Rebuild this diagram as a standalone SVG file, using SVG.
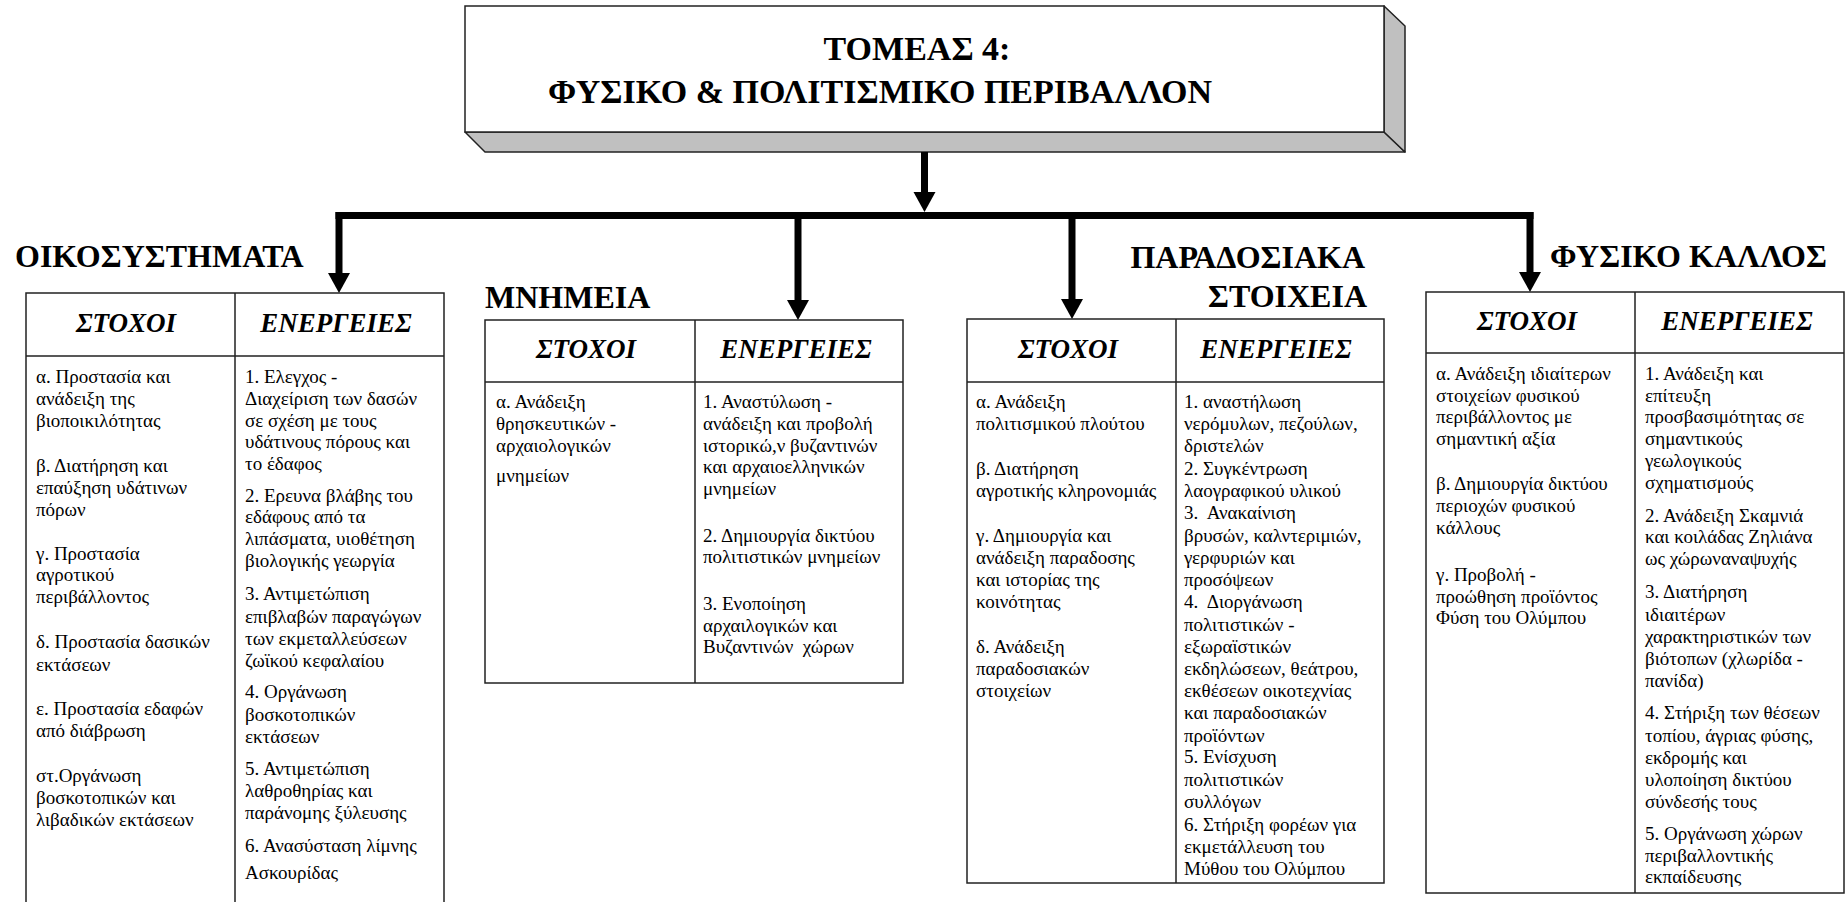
<svg xmlns="http://www.w3.org/2000/svg" width="1845" height="902" viewBox="0 0 1845 902">
<style>
.b{font-family:"Liberation Serif","DejaVu Serif",serif;font-size:19px;fill:#000}
.h{font-family:"Liberation Serif","DejaVu Serif",serif;font-size:27px;font-weight:bold;font-style:italic;text-anchor:middle;fill:#000}
.sec{font-family:"Liberation Serif","DejaVu Serif",serif;font-size:32px;font-weight:bold;fill:#000}
.ttl{font-family:"Liberation Serif","DejaVu Serif",serif;font-size:34px;font-weight:bold;text-anchor:middle;fill:#000}
.tb{fill:#fff;stroke:#222;stroke-width:1.5}
.ln{stroke:#222;stroke-width:1.5;fill:none}
.side{fill:#c0c0c0;stroke:#222;stroke-width:1.5;stroke-linejoin:round}
.cn{stroke:#000;stroke-width:7;fill:none}
</style>
<defs>
<marker id="ah" markerUnits="userSpaceOnUse" markerWidth="22" markerHeight="24" viewBox="0 -12 21 24" refX="0" refY="0" orient="auto">
<path d="M0,-11 L20,0 L0,11 Z" fill="#000"/>
</marker>
</defs>
<rect width="1845" height="902" fill="#fff"/>

<g id="title">
<path class="side" d="M465,132 L485,152 L1405,152 L1384,132 Z"/>
<path class="side" d="M1384,6 L1405,26 L1405,152 L1384,132 Z"/>
<rect class="tb" x="465" y="6" width="919" height="126"/>
<text class="ttl" x="917" y="60">ΤΟΜΕΑΣ 4:</text>
<text class="ttl" x="880" y="103">ΦΥΣΙΚΟ &amp; ΠΟΛΙΤΙΣΜΙΚΟ ΠΕΡΙΒΑΛΛΟΝ</text>
</g>

<g id="connectors">
<line class="cn" x1="924.5" y1="152" x2="924.5" y2="192" marker-end="url(#ah)"/>
<line class="cn" x1="335.5" y1="215.5" x2="1533.5" y2="215.5"/>
<line class="cn" x1="339" y1="212" x2="339" y2="273" marker-end="url(#ah)"/>
<line class="cn" x1="798" y1="212" x2="798" y2="300" marker-end="url(#ah)"/>
<line class="cn" x1="1072" y1="212" x2="1072" y2="299" marker-end="url(#ah)"/>
<line class="cn" x1="1530" y1="212" x2="1530" y2="272" marker-end="url(#ah)"/>
</g>

<g id="oikosystimata">
<text class="sec" x="15" y="267">ΟΙΚΟΣΥΣΤΗΜΑΤΑ</text>
<path class="ln" d="M26,905 L26,293 L444,293 L444,905 M26,356 L444,356 M235,293 L235,905"/>
<text class="h" x="126" y="332">ΣΤΟΧΟΙ</text>
<text class="h" x="336" y="332">ΕΝΕΡΓΕΙΕΣ</text>
<text class="b" x="36" y="383">α. Προστασία και</text>
<text class="b" x="36" y="405">ανάδειξη της</text>
<text class="b" x="36" y="427">βιοποικιλότητας</text>
<text class="b" x="36" y="472">β. Διατήρηση και</text>
<text class="b" x="36" y="494">επαύξηση υδάτινων</text>
<text class="b" x="36" y="516">πόρων</text>
<text class="b" x="36" y="560">γ. Προστασία</text>
<text class="b" x="36" y="581">αγροτικού</text>
<text class="b" x="36" y="603">περιβάλλοντος</text>
<text class="b" x="36" y="648">δ. Προστασία δασικών</text>
<text class="b" x="36" y="671">εκτάσεων</text>
<text class="b" x="36" y="715">ε. Προστασία εδαφών</text>
<text class="b" x="36" y="737">από διάβρωση</text>
<text class="b" x="36" y="782">στ.Οργάνωση</text>
<text class="b" x="36" y="804">βοσκοτοπικών και</text>
<text class="b" x="36" y="826">λιβαδικών εκτάσεων</text>
<text class="b" x="245" y="383">1. Ελεγχος -</text>
<text class="b" x="245" y="405">Διαχείριση των δασών</text>
<text class="b" x="245" y="427">σε σχέση με τους</text>
<text class="b" x="245" y="448">υδάτινους πόρους και</text>
<text class="b" x="245" y="470">το έδαφος</text>
<text class="b" x="245" y="502">2. Ερευνα βλάβης του</text>
<text class="b" x="245" y="523">εδάφους από τα</text>
<text class="b" x="245" y="545">λιπάσματα, υιοθέτηση</text>
<text class="b" x="245" y="567">βιολογικής γεωργία</text>
<text class="b" x="245" y="600">3. Αντιμετώπιση</text>
<text class="b" x="245" y="623">επιβλαβών παραγώγων</text>
<text class="b" x="245" y="645">των εκμεταλλεύσεων</text>
<text class="b" x="245" y="667">ζωϊκού κεφαλαίου</text>
<text class="b" x="245" y="698">4. Οργάνωση</text>
<text class="b" x="245" y="721">βοσκοτοπικών</text>
<text class="b" x="245" y="743">εκτάσεων</text>
<text class="b" x="245" y="775">5. Αντιμετώπιση</text>
<text class="b" x="245" y="797">λαθροθηρίας και</text>
<text class="b" x="245" y="819">παράνομης ξύλευσης</text>
<text class="b" x="245" y="852">6. Ανασύσταση λίμνης</text>
<text class="b" x="245" y="879">Ασκουρίδας</text>
</g>

<g id="mnimeia">
<text class="sec" x="485" y="308">ΜΝΗΜΕΙΑ</text>
<rect class="tb" x="485" y="320" width="418" height="363"/>
<path class="ln" d="M485,382 L903,382 M695,320 L695,683"/>
<text class="h" x="586" y="358">ΣΤΟΧΟΙ</text>
<text class="h" x="796" y="358">ΕΝΕΡΓΕΙΕΣ</text>
<text class="b" x="496" y="408">α. Ανάδειξη</text>
<text class="b" x="496" y="430">θρησκευτικών -</text>
<text class="b" x="496" y="452">αρχαιολογικών</text>
<text class="b" x="496" y="482">μνημείων</text>
<text class="b" x="703" y="408">1. Αναστύλωση -</text>
<text class="b" x="703" y="430">ανάδειξη και προβολή</text>
<text class="b" x="703" y="452">ιστορικώ,ν βυζαντινών</text>
<text class="b" x="703" y="473">και αρχαιοελληνικών</text>
<text class="b" x="703" y="495">μνημείων</text>
<text class="b" x="703" y="542">2. Δημιουργία δικτύου</text>
<text class="b" x="703" y="563">πολιτιστικών μνημείων</text>
<text class="b" x="703" y="610">3. Ενοποίηση</text>
<text class="b" x="703" y="632">αρχαιλογικών και</text>
<text class="b" x="703" y="653" xml:space="preserve">Βυζαντινών  χώρων</text>
</g>

<g id="paradosiaka">
<text class="sec" x="1365" y="268" text-anchor="end">ΠΑΡΑΔΟΣΙΑΚΑ</text>
<text class="sec" x="1367" y="307" text-anchor="end">ΣΤΟΙΧΕΙΑ</text>
<rect class="tb" x="967" y="319" width="417" height="564"/>
<path class="ln" d="M967,382 L1384,382 M1176,319 L1176,883"/>
<text class="h" x="1068" y="358">ΣΤΟΧΟΙ</text>
<text class="h" x="1276" y="358">ΕΝΕΡΓΕΙΕΣ</text>
<text class="b" x="976" y="408">α. Ανάδειξη</text>
<text class="b" x="976" y="430">πολιτισμικού πλούτου</text>
<text class="b" x="976" y="475">β. Διατήρηση</text>
<text class="b" x="976" y="497">αγροτικής κληρονομιάς</text>
<text class="b" x="976" y="542">γ. Δημιουργία και</text>
<text class="b" x="976" y="564">ανάδειξη παραδοσης</text>
<text class="b" x="976" y="586">και ιστορίας της</text>
<text class="b" x="976" y="608">κοινότητας</text>
<text class="b" x="976" y="653">δ. Ανάδειξη</text>
<text class="b" x="976" y="675">παραδοσιακών</text>
<text class="b" x="976" y="697">στοιχείων</text>
<text class="b" x="1184" y="408">1. αναστήλωση</text>
<text class="b" x="1184" y="430">νερόμυλων, πεζούλων,</text>
<text class="b" x="1184" y="452">δριστελών</text>
<text class="b" x="1184" y="475">2. Συγκέντρωση</text>
<text class="b" x="1184" y="497">λαογραφικού υλικού</text>
<text class="b" x="1184" y="519" xml:space="preserve">3.  Ανακαίνιση</text>
<text class="b" x="1184" y="542">βρυσών, καλντεριμιών,</text>
<text class="b" x="1184" y="564">γερφυριών και</text>
<text class="b" x="1184" y="586">προσόψεων</text>
<text class="b" x="1184" y="608" xml:space="preserve">4.  Διοργάνωση</text>
<text class="b" x="1184" y="631">πολιτιστικών -</text>
<text class="b" x="1184" y="653">εξωραϊστικών</text>
<text class="b" x="1184" y="675">εκδηλώσεων, θεάτρου,</text>
<text class="b" x="1184" y="697">εκθέσεων οικοτεχνίας</text>
<text class="b" x="1184" y="719">και παραδοσιακών</text>
<text class="b" x="1184" y="742">προϊόντων</text>
<text class="b" x="1184" y="763">5. Ενίσχυση</text>
<text class="b" x="1184" y="786">πολιτιστικών</text>
<text class="b" x="1184" y="808">συλλόγων</text>
<text class="b" x="1184" y="831">6. Στήριξη φορέων για</text>
<text class="b" x="1184" y="853">εκμετάλλευση του</text>
<text class="b" x="1184" y="875">Μύθου του Ολύμπου</text>
</g>

<g id="fysiko-kallos">
<text class="sec" x="1550" y="267">ΦΥΣΙΚΟ ΚΑΛΛΟΣ</text>
<rect class="tb" x="1426" y="292" width="418" height="601"/>
<path class="ln" d="M1426,353 L1844,353 M1635,292 L1635,893"/>
<text class="h" x="1527" y="330">ΣΤΟΧΟΙ</text>
<text class="h" x="1737" y="330">ΕΝΕΡΓΕΙΕΣ</text>
<text class="b" x="1436" y="380">α. Ανάδειξη ιδιαίτερων</text>
<text class="b" x="1436" y="402">στοιχείων φυσικού</text>
<text class="b" x="1436" y="423">περιβάλλοντος με</text>
<text class="b" x="1436" y="445">σημαντική αξία</text>
<text class="b" x="1436" y="490">β. Δημιουργία δικτύου</text>
<text class="b" x="1436" y="512">περιοχών φυσικού</text>
<text class="b" x="1436" y="534">κάλλους</text>
<text class="b" x="1436" y="581">γ. Προβολή -</text>
<text class="b" x="1436" y="603">προώθηση προϊόντος</text>
<text class="b" x="1436" y="624">Φύση του Ολύμπου</text>
<text class="b" x="1645" y="380">1. Ανάδειξη και</text>
<text class="b" x="1645" y="402">επίτευξη</text>
<text class="b" x="1645" y="423">προσβασιμότητας σε</text>
<text class="b" x="1645" y="445">σημαντικούς</text>
<text class="b" x="1645" y="467">γεωλογικούς</text>
<text class="b" x="1645" y="489">σχηματισμούς</text>
<text class="b" x="1645" y="522">2. Ανάδειξη Σκαμνιά</text>
<text class="b" x="1645" y="543">και κοιλάδας Ζηλιάνα</text>
<text class="b" x="1645" y="565">ως χώρωναναψυχής</text>
<text class="b" x="1645" y="598">3. Διατήρηση</text>
<text class="b" x="1645" y="621">ιδιαιτέρων</text>
<text class="b" x="1645" y="643">χαρακτηριστικών των</text>
<text class="b" x="1645" y="665">βιότοπων (χλωρίδα -</text>
<text class="b" x="1645" y="687">πανίδα)</text>
<text class="b" x="1645" y="719">4. Στήριξη των θέσεων</text>
<text class="b" x="1645" y="742">τοπίου, άγριας φύσης,</text>
<text class="b" x="1645" y="764">εκδρομής και</text>
<text class="b" x="1645" y="786">υλοποίηση δικτύου</text>
<text class="b" x="1645" y="808">σύνδεσής τους</text>
<text class="b" x="1645" y="840">5. Οργάνωση χώρων</text>
<text class="b" x="1645" y="862">περιβαλλοντικής</text>
<text class="b" x="1645" y="883">εκπαίδευσης</text>
</g>
</svg>
